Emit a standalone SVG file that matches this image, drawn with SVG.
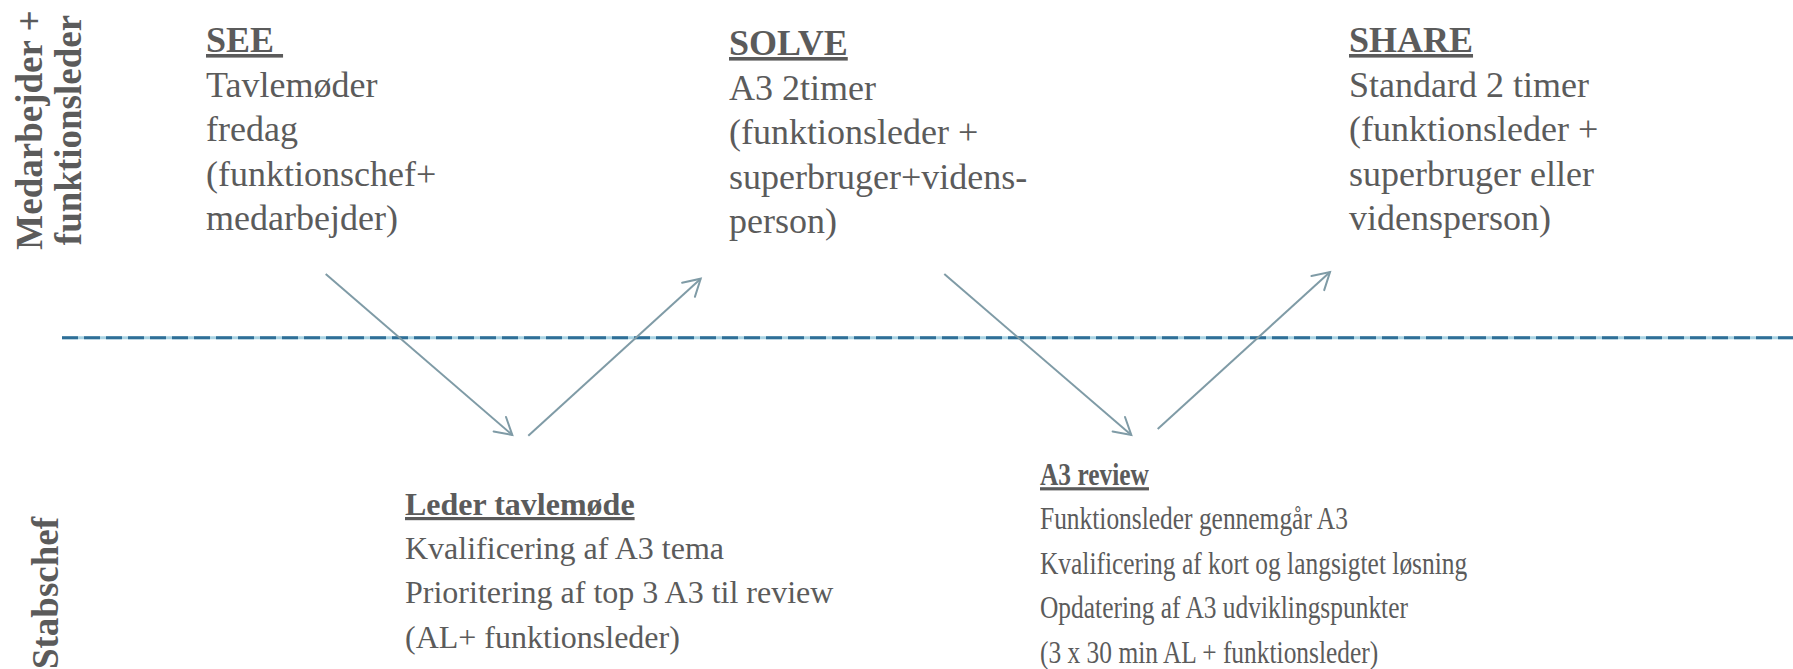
<svg xmlns="http://www.w3.org/2000/svg" width="1793" height="669" viewBox="0 0 1793 669">
  <style>
    text { font-family: "Liberation Serif", serif; fill: #5b5b5b; }
    .body { font-size: 36px; font-weight: normal; }
    .head { font-size: 36px; font-weight: bold; text-decoration: underline; white-space: pre; }
    .body32 { font-size: 32px; font-weight: normal; }
    .head32 { font-size: 32px; font-weight: bold; text-decoration: underline; }
    .lane { font-size: 37px; font-weight: bold; }
    .arrow { stroke: #7f9ba6; stroke-width: 2; fill: none; marker-end: url(#open); }
  </style>
  <defs>
    <marker id="open" markerUnits="userSpaceOnUse" markerWidth="40" markerHeight="40" viewBox="-20 -20 40 40" refX="0" refY="0" orient="auto">
      <path d="M -16.5,-9.5 L 0,0 L -16.5,9.5" fill="none" stroke="#7f9ba6" stroke-width="2" stroke-linecap="round" stroke-linejoin="miter"/>
    </marker>
  </defs>
  <rect width="1793" height="669" fill="#ffffff"/>

  <g id="divider">
    <line x1="62" y1="337.7" x2="1793" y2="337.7" stroke="#a9d3e3" stroke-width="3"/>
    <line x1="62" y1="337.7" x2="1793" y2="337.7" stroke="#2f6f97" stroke-width="3" stroke-dasharray="16 6"/>
  </g>

  <g id="lane-top" font-family="Liberation Serif, serif">
    <text class="lane" transform="translate(42,130) rotate(-90)" text-anchor="middle">Medarbejder +</text>
    <text class="lane" transform="translate(81,130) rotate(-90)" text-anchor="middle">funktionsleder</text>
  </g>
  <g id="lane-bottom" font-family="Liberation Serif, serif">
    <text class="lane" transform="translate(58,593) rotate(-90)" text-anchor="middle">Stabschef</text>
  </g>

  <g id="see" font-family="Liberation Serif, serif">
    <text class="head" x="206" y="52">SEE </text>
    <text class="body" x="206" y="96.5">Tavlemøder</text>
    <text class="body" x="206" y="141">fredag</text>
    <text class="body" x="206" y="185.5">(funktionschef+</text>
    <text class="body" x="206" y="230">medarbejder)</text>
  </g>

  <g id="solve" font-family="Liberation Serif, serif">
    <text class="head" x="729" y="55">SOLVE</text>
    <text class="body" x="729" y="99.5">A3 2timer</text>
    <text class="body" x="729" y="144">(funktionsleder +</text>
    <text class="body" x="729" y="188.5">superbruger+videns-</text>
    <text class="body" x="729" y="233">person)</text>
  </g>

  <g id="share" font-family="Liberation Serif, serif">
    <text class="head" x="1349" y="52">SHARE</text>
    <text class="body" x="1349" y="96.5">Standard 2 timer</text>
    <text class="body" x="1349" y="141">(funktionsleder +</text>
    <text class="body" x="1349" y="185.5">superbruger eller</text>
    <text class="body" x="1349" y="230">vidensperson)</text>
  </g>

  <g id="leder-tavlemoede" font-family="Liberation Serif, serif">
    <text class="head32" x="405" y="515">Leder tavlemøde</text>
    <text class="body32" x="405" y="559">Kvalificering af A3 tema</text>
    <text class="body32" x="405" y="603.3">Prioritering af top 3 A3 til review</text>
    <text class="body32" x="405" y="647.5">(AL+ funktionsleder)</text>
  </g>

  <g id="a3-review" font-family="Liberation Serif, serif" transform="translate(1040,0) scale(0.795,1)">
    <text class="head32" x="0" y="485">A3 review</text>
    <text class="body32" x="0" y="529.5">Funktionsleder gennemgår A3</text>
    <text class="body32" x="0" y="574">Kvalificering af kort og langsigtet løsning</text>
    <text class="body32" x="0" y="618.5">Opdatering af A3 udviklingspunkter</text>
    <text class="body32" x="0" y="663">(3 x 30 min AL + funktionsleder)</text>
  </g>

  <g id="connectors">
    <line class="arrow" x1="325.7" y1="274" x2="512.3" y2="435"/>
    <line class="arrow" x1="528.3" y1="435.7" x2="700.7" y2="278.7"/>
    <line class="arrow" x1="944.3" y1="274" x2="1131.3" y2="435"/>
    <line class="arrow" x1="1157.7" y1="429" x2="1330" y2="272"/>
  </g>
</svg>
